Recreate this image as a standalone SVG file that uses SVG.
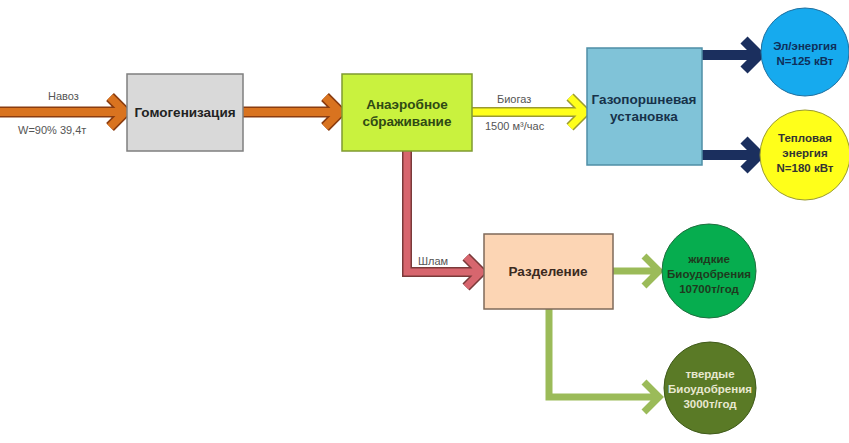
<svg xmlns="http://www.w3.org/2000/svg" width="849" height="443" viewBox="0 0 849 443">
<style>
  .box { stroke-width: 1.5; }
  .lbl { font-family: "Liberation Sans", Arial, sans-serif; font-size: 11px; fill: #555; }
  .bt { font-family: "Liberation Sans", Arial, sans-serif; font-size: 13.5px; font-weight: bold; text-anchor: middle; }
  .ct { font-family: "Liberation Sans", Arial, sans-serif; font-size: 11.5px; font-weight: bold; text-anchor: middle; }
  .ar { fill: none; stroke-linejoin: miter; stroke-linecap: butt; }
  .o-or { stroke: #8a3c10; stroke-width: 11; }
  .f-or { stroke: #d9731f; stroke-width: 8; }
  .o-ye { stroke: #9a9a30; stroke-width: 10; }
  .f-ye { stroke: #ffff1a; stroke-width: 7; }
  .f-nv { stroke: #1b2f5e; stroke-width: 10; }
  .o-rd { stroke: #7a3a3a; stroke-width: 10; }
  .f-rd { stroke: #d7666e; stroke-width: 7; }
  .f-gr { stroke: #9bbb59; stroke-width: 7; }
</style>

<g id="connectors">
  <path class="ar o-or" d="M0,112 H124 M110,97 L125,112 L110,127"/>
  <path class="ar o-or" d="M243,112 H339 M325,97 L340,112 L325,127"/>
  <path class="ar o-ye" d="M472,112 H584 M570,97 L585,112 L570,127"/>
  <path class="ar o-rd" d="M407,150 V272 H480 M466,257 L481,272 L466,287"/>
  <path class="ar f-or" d="M0,112 H124 M110,97 L125,112 L110,127"/>
  <path class="ar f-or" d="M243,112 H339 M325,97 L340,112 L325,127"/>
  <path class="ar f-ye" d="M472,112 H584 M570,97 L585,112 L570,127"/>
  <path class="ar f-rd" d="M407,150 V272 H480 M466,257 L481,272 L466,287"/>
  <path class="ar f-nv" d="M702,55 H758 M744,40 L759,55 L744,70"/>
  <path class="ar f-nv" d="M702,155 H758 M744,140 L759,155 L744,170"/>
  <path class="ar f-gr" d="M613,271 H658 M644,256 L659,271 L644,286"/>
  <path class="ar f-gr" d="M549,309 V397 H658 M644,382 L659,397 L644,412"/>
  <text class="lbl" x="48" y="100">Навоз</text>
  <text class="lbl" x="18" y="134">W=90% 39,4т</text>
  <text class="lbl" x="497" y="103">Биогаз</text>
  <text class="lbl" x="485" y="130">1500 м³/час</text>
  <text class="lbl" x="418" y="265">Шлам</text>
</g>

<g id="gomogenizacia">
  <rect class="box" x="127" y="74" width="116" height="77" fill="#d9d9d9" stroke="#7f7f7f"/>
  <text class="bt" x="185" y="117" fill="#222">Гомогенизация</text>
</g>

<g id="anaerob">
  <rect class="box" x="342" y="74" width="130" height="77" fill="#c9f23e" stroke="#7f9a30"/>
  <text class="bt" x="407" y="109" fill="#2f4a14">Анаэробное</text>
  <text class="bt" x="407" y="126" fill="#2f4a14">сбраживание</text>
</g>

<g id="gazoporshnevaya">
  <rect class="box" x="587" y="48" width="115" height="117" fill="#80c3d8" stroke="#4f8fa6"/>
  <text class="bt" x="644" y="104" fill="#17324a">Газопоршневая</text>
  <text class="bt" x="644" y="121" fill="#17324a">установка</text>
</g>

<g id="razdelenie">
  <rect class="box" x="484" y="234" width="129" height="75" fill="#fcd5b4" stroke="#7f6a5a"/>
  <text class="bt" x="548" y="276" fill="#3a2a20">Разделение</text>
</g>

<g id="elenergia">
  <circle cx="805" cy="52" r="44" fill="#16aaee" stroke="#1f6f9f" stroke-width="1"/>
  <text class="ct" x="805" y="50" fill="#0f2f5a">Эл/энергия</text>
  <text class="ct" x="805" y="65" fill="#0f2f5a">N=125 кВт</text>
</g>

<g id="teplovaya">
  <circle cx="805" cy="155" r="45" fill="#ffff1a" stroke="#9a9a30" stroke-width="1"/>
  <text class="ct" x="805" y="142" fill="#333">Тепловая</text>
  <text class="ct" x="805" y="157" fill="#333">энергия</text>
  <text class="ct" x="805" y="172" fill="#333">N=180 кВт</text>
</g>

<g id="zhidkie">
  <circle cx="709" cy="271" r="47" fill="#06ad4f" stroke="#1f6f3f" stroke-width="1"/>
  <text class="ct" x="709" y="263" fill="#1e3a1e" font-size="10">жидкие</text>
  <text class="ct" x="709" y="278" fill="#1e3a1e" font-size="10">Биоудобрения</text>
  <text class="ct" x="709" y="293" fill="#1e3a1e" font-size="10">10700т/год</text>
</g>

<g id="tverdye">
  <circle cx="710" cy="388" r="46" fill="#5a7a26" stroke="#3f5a1a" stroke-width="1"/>
  <text class="ct" x="710" y="378" fill="#e8e8d0" font-size="10.5">твердые</text>
  <text class="ct" x="710" y="393" fill="#e8e8d0" font-size="10.5">Биоудобрения</text>
  <text class="ct" x="710" y="408" fill="#e8e8d0" font-size="10.5">3000т/год</text>
</g>
</svg>
